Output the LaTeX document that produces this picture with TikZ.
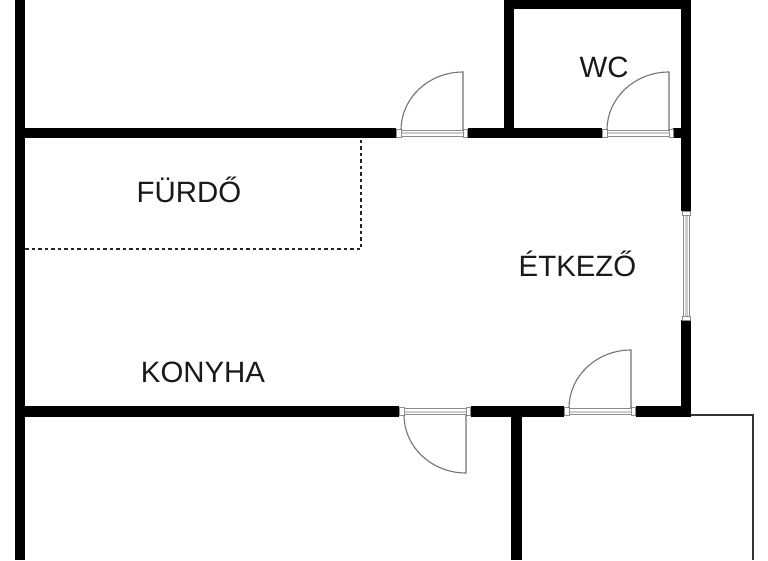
\documentclass[tikz,border=0pt]{standalone}
\usepackage{fontspec}
\setmainfont{Liberation Sans}
\tikzset{
    wall/.style={fill=black},
    roomlabel/.style={font=\fontsize{29.4}{30}\selectfont, text=black!90, inner sep=0pt, anchor=base},
    leaf/.style={draw=black!55, line width=1.1pt},
    frameline/.style={draw=black!45, line width=0.9pt},
    framemid/.style={draw=black!20, line width=2pt},
    jamb/.style={draw=black!45, fill=white, line width=0.8pt},
    thinwall/.style={draw=black!80, line width=1.3pt},
    dashline/.style={draw=black!85, line width=1.4pt, dash pattern=on 3.5pt off 3pt}
}

\begin{document}
\begin{tikzpicture}[x=1pt, y=-1pt]
    \useasboundingbox (0,0) rectangle (768,560);
    \fill[white] (0,0) rectangle (768,560);
    % thin outline and dashed zone
    \draw[thinwall] (690,415) -- (753,415) -- (753,560);
    \draw[dashline] (25,249) -- (361,249) -- (361,138);
    % walls
    \fill[wall] (15,0) rectangle (25,560);
    \fill[wall] (25,128) rectangle (396,138);
    \fill[wall] (468,128) rectangle (602,138);
    \fill[wall] (673,128) rectangle (681,138);
    \fill[wall] (504,0) rectangle (514,128);
    \fill[wall] (504,0) rectangle (691,9);
    \fill[wall] (681,0) rectangle (691,211);
    \fill[wall] (681,320) rectangle (691,417);
    \fill[wall] (25,406) rectangle (399,417);
    \fill[wall] (471,406) rectangle (564,417);
    \fill[wall] (636,406) rectangle (691,417);
    \fill[wall] (511,417) rectangle (522,560);
    % door frames
    \foreach \xa/\xb/\ya in {401/463/133, 607/669/133, 404/466/411.5, 569/631/411.5}{
        \draw[framemid] (\xa,\ya) -- (\xb,\ya);
        \draw[frameline] (\xa,\ya-3) -- (\xb,\ya-3);
        \draw[frameline] (\xa,\ya+3) -- (\xb,\ya+3);
        \draw[jamb] (\xa-4.5,\ya-4) rectangle (\xa,\ya+4);
        \draw[jamb] (\xb,\ya-4) rectangle (\xb+4.5,\ya+4);
    }
    % door leaves
    \draw[leaf] (463,130) -- (463,72) arc[start angle=-90, end angle=-180, x radius=62, y radius=58];
    \draw[leaf] (669,130) -- (669,72) arc[start angle=-90, end angle=-180, x radius=62, y radius=58];
    \draw[leaf] (631,408) -- (631,350) arc[start angle=-90, end angle=-180, x radius=62, y radius=58];
    \draw[leaf] (466,415) -- (466,473) arc[start angle=90, end angle=180, x radius=62, y radius=58];
    % window
    \draw[framemid, line width=3pt] (686,215) -- (686,316);
    \draw[frameline] (683,215) -- (683,316);
    \draw[frameline] (689,215) -- (689,316);
    \draw[jamb] (682,211) rectangle (690,215);
    \draw[jamb] (682,316) rectangle (690,320);
    % room names
    \node (furdo) [roomlabel] at (189,202) {FÜRDŐ};
    \node (wc) [roomlabel] at (604,77) {WC};
    \node (etkezo) [roomlabel] at (577.5,276) {ÉTKEZŐ};
    \node (konyha) [roomlabel] at (203,382.5) {KONYHA};
\end{tikzpicture}
\end{document}
